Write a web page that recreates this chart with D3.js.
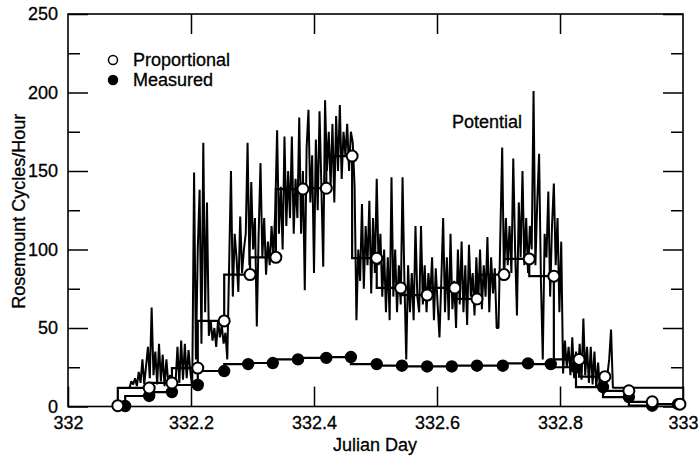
<!DOCTYPE html>
<html>
<head>
<meta charset="utf-8">
<script src="https://cdn.jsdelivr.net/npm/d3@7"></script>
<style>
  html, body { margin: 0; padding: 0; background: #fff; }
  svg { display: block; font-family: "Liberation Sans", Arial, Helvetica, sans-serif; }
  svg text { stroke: #000; stroke-width: 0.3px; }
</style>
</head>
<body>
<div class="chart"></div>
<script>
const xTicks = [332, 332.2, 332.4, 332.6, 332.8, 333];
const xTopTicks = [332.2, 332.4, 332.6, 332.8];
const yTicks = [0, 50, 100, 150, 200, 250];
const yMinorTicks = [25, 75, 125, 175, 225];

// hourly estimates (open circles)
const proportionalDays = [332.081, 332.132, 332.169, 332.211, 332.254, 332.296, 332.338, 332.382,
  332.420, 332.462, 332.502, 332.541, 332.584, 332.629, 332.665, 332.709, 332.750, 332.790,
  332.831, 332.873, 332.912, 332.950, 332.995];
const proportionalValues = [0.5, 11.8, 15, 24.5, 54.5, 84, 95, 138.5, 139, 159.5, 94.5, 75.5,
  71, 75.5, 68.5, 84, 94, 83, 30, 19, 10, 3, 1.5];

// hourly measurements (filled circles)
const measuredDays = [332.093, 332.132, 332.169, 332.211, 332.254, 332.293, 332.333, 332.374,
  332.420, 332.460, 332.502, 332.543, 332.584, 332.624, 332.665, 332.707, 332.748, 332.785,
  332.826, 332.870, 332.912, 332.950, 332.992];
const measuredValues = [0.3, 6.7, 9.2, 13.7, 22.6, 27, 27.7, 30, 31, 31.5, 27, 26, 25.5, 25.5,
  26, 26, 27.5, 27, 25, 12.4, 6, 0.5, 1.5];

// potential, one sample every 0.003 day from 332.100
const potentialStart = 332.1;
const potentialStep = 0.003;
const potentialValues = [
  12, 16, 14, 18, 13, 22, 15, 30, 14, 26,
  38, 18, 63, 20, 35, 14, 40, 16, 33, 13,
  30, 15, 20, 14, 18, 16, 38, 15, 42, 17,
  40, 18, 36, 22, 12, 149, 30, 100, 138, 40,
  168, 60, 130, 45, 55, 42, 50, 38, 55, 44,
  52, 40, 47, 30, 90, 150, 70, 110, 95, 73,
  121, 85, 100, 110, 168, 90, 143, 100, 120, 51,
  110, 155, 95, 120, 84, 105, 90, 115, 95, 125,
  176, 110, 140, 100, 172, 115, 150, 120, 172, 110,
  145, 120, 184, 110, 150, 74, 165, 189, 130, 160,
  85, 170, 125, 188, 140, 89, 195, 150, 175, 140,
  180, 130, 185, 150, 192, 145, 175, 160, 180, 150,
  175, 168, 140, 55, 100, 80, 129, 75, 115, 90,
  131, 72, 120, 85, 145, 90, 110, 70, 100, 60,
  95, 55, 146, 70, 100, 60, 90, 65, 146, 80,
  30, 90, 60, 85, 55, 115, 70, 60, 115, 65,
  90, 60, 85, 70, 95, 55, 88, 65, 44, 80,
  120, 60, 95, 55, 110, 62, 80, 50, 100, 65,
  105, 60, 90, 52, 103, 70, 85, 58, 95, 65,
  100, 62, 90, 70, 108, 60, 95, 72, 88, 50,
  50, 110, 165, 80, 120, 90, 115, 85, 158, 100,
  58, 130, 95, 150, 90, 120, 85, 115, 100, 201,
  90, 130, 161, 80, 30, 110, 95, 137, 70, 115,
  142, 90, 120, 60, 105, 21, 42, 25, 38, 20,
  44, 18, 35, 22, 40, 17, 56, 20, 38, 15,
  38, 14, 35, 12, 28, 10, 15, 8, 12, 20,
  30, 49, 12, 12
];
const potentialEnd = [333.0, 12];

const legendItems = ['Proportional', 'Measured'];

(function() {
  'use strict';

  let width = 700,
      height = 459,
      x = d3.scaleLinear().domain([332, 333]).range([68, 683]),
      y = d3.scaleLinear().domain([0, 250]).range([406.5, 14]),

      svg = d3.select('.chart')
        .append('svg')
        .attr('width', width)
        .attr('height', height),

      /**
       * Frame, ticks and tick labels
       */
      drawAxes = () => {
        let bottom = svg.append('g')
              .attr('transform', `translate(0,${y(0)})`)
              .call(d3.axisBottom(x).tickValues(xTicks).tickSize(-20).tickPadding(10)
                .tickFormat(d3.format('')));
        let top = svg.append('g')
              .attr('transform', `translate(0,${y(250)})`)
              .call(d3.axisTop(x).tickValues(xTopTicks).tickSize(-20).tickFormat(''));
        let left = svg.append('g')
              .attr('transform', `translate(${x(332)},0)`)
              .call(d3.axisLeft(y).tickValues(yTicks).tickSize(-20).tickPadding(10));
        let leftMinor = svg.append('g')
              .attr('transform', `translate(${x(332)},0)`)
              .call(d3.axisLeft(y).tickValues(yMinorTicks).tickSize(-12).tickFormat(''));
        let right = svg.append('g')
              .attr('transform', `translate(${x(333)},0)`)
              .call(d3.axisRight(y).tickValues(yTicks).tickSize(-20).tickFormat(''));
        let rightMinor = svg.append('g')
              .attr('transform', `translate(${x(333)},0)`)
              .call(d3.axisRight(y).tickValues(yMinorTicks).tickSize(-12).tickFormat(''));

        [bottom, top, left, leftMinor, right, rightMinor].forEach(g => {
          g.select('.domain').remove();
          g.selectAll('.tick line').attr('stroke', '#000').attr('stroke-width', 1.5);
          g.selectAll('.tick text')
            .attr('fill', '#000')
            .style('font-size', '18px')
            .style('font-family', '"Liberation Sans", Arial, Helvetica, sans-serif');
        });

        svg.append('rect')
          .attr('x', x(332))
          .attr('y', y(250))
          .attr('width', x(333) - x(332))
          .attr('height', y(0) - y(250))
          .attr('fill', 'none')
          .attr('stroke', '#000')
          .attr('stroke-width', 1.6);

        svg.append('text')
          .attr('transform', `translate(25,${y(125) + 1}) rotate(-90)`)
          .attr('text-anchor', 'middle')
          .style('font-size', '18px')
          .text('Rosemount Cycles/Hour');

        svg.append('text')
          .attr('x', 375)
          .attr('y', 451)
          .attr('text-anchor', 'middle')
          .style('font-size', '18px')
          .text('Julian Day');
      },

      /**
       * Noisy potential trace
       */
      drawPotential = () => {
        let pts = potentialValues.map((v, i) => [potentialStart + potentialStep * i, v]);
        pts.push(potentialEnd);

        svg.append('path')
          .datum(pts)
          .attr('fill', 'none')
          .attr('stroke', '#000')
          .attr('stroke-width', 2)
          .attr('stroke-linejoin', 'bevel')
          .attr('d', d3.line().x(d => x(d[0])).y(d => y(d[1])));

        svg.append('text')
          .attr('x', 452)
          .attr('y', 128)
          .style('font-size', '18px')
          .text('Potential');
      },

      /**
       * Hourly step lines
       */
      drawSteps = (days, values) => {
        let pts = days.map((d, i) => [d, values[i]]);

        svg.append('path')
          .datum(pts)
          .attr('fill', 'none')
          .attr('stroke', '#000')
          .attr('stroke-width', 2.2)
          .attr('d', d3.line().curve(d3.curveStepBefore).x(d => x(d[0])).y(d => y(d[1])));

        return pts;
      },

      drawMarkers = (pts, filled) => {
        svg.append('g')
          .selectAll('circle')
          .data(pts)
          .enter()
          .append('circle')
            .attr('cx', d => x(d[0]))
            .attr('cy', d => y(d[1]))
            .attr('r', filled ? 5.2 : 5.5)
            .attr('fill', filled ? '#000' : '#fff')
            .attr('stroke', '#000')
            .attr('stroke-width', 2);
      },

      drawLegend = () => {
        let g = svg.append('g');
        legendItems.forEach((name, i) => {
          g.append('circle')
            .attr('cx', 113)
            .attr('cy', 60 + i * 20)
            .attr('r', 4.5)
            .attr('fill', i === 0 ? '#fff' : '#000')
            .attr('stroke', '#000')
            .attr('stroke-width', 1.5);
          g.append('text')
            .attr('x', 133)
            .attr('y', 66 + i * 20)
            .style('font-size', '18px')
            .text(name);
        });
      };

  drawAxes();
  drawPotential();
  let prop = drawSteps(proportionalDays, proportionalValues),
      meas = drawSteps(measuredDays, measuredValues);
  drawMarkers(meas, true);
  drawMarkers(prop, false);
  drawLegend();

})();
</script>
</body>
</html>
